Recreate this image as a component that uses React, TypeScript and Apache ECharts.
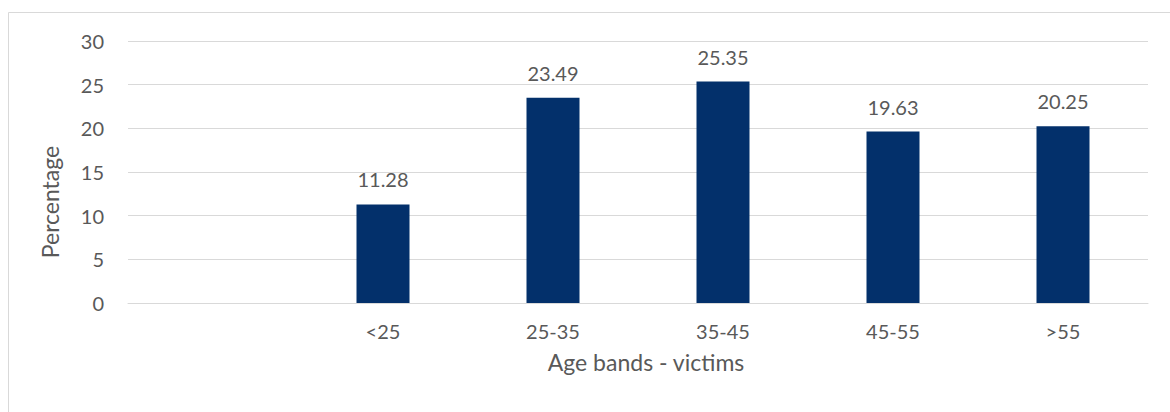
import React, { useEffect, useRef } from "react";
import * as echarts from "echarts";

// Share of victims per age band (first slot is an empty category)
const categories = ["", "<25", "25-35", "35-45", "45-55", ">55"];
const percentages: (number | null)[] = [null, 11.28, 23.49, 25.35, 19.63, 20.25];
const yTicks = { min: 0, max: 30, interval: 5 };

const TEXT = "#595959";
const FONT = "Lato, 'Open Sans', sans-serif";

export default function App() {
  const ref = useRef<HTMLDivElement>(null);

  useEffect(() => {
    if (!ref.current) return;
    const chart = echarts.init(ref.current, null, { renderer: "svg" });
    chart.setOption({
      animation: false,
      backgroundColor: "#ffffff",
      textStyle: { fontFamily: FONT, color: TEXT },
      grid: { left: 128, right: 22, top: 41, bottom: 109, containLabel: false },
      xAxis: {
        type: "category",
        data: categories,
        axisLine: { show: true, lineStyle: { color: "#d9d9d9", width: 1 } },
        axisTick: { show: false },
        axisLabel: { color: TEXT, fontSize: 20, fontFamily: FONT, margin: 18 },
      },
      yAxis: {
        type: "value",
        min: yTicks.min,
        max: yTicks.max,
        interval: yTicks.interval,
        axisLine: { show: false },
        axisTick: { show: false },
        axisLabel: { color: TEXT, fontSize: 20, fontFamily: FONT, margin: 24 },
        splitLine: { lineStyle: { color: "#d9d9d9", width: 1 } },
      },
      graphic: [
        {
          type: "rect",
          shape: { x: 8.5, y: 12.5, width: 1200, height: 500 },
          style: { fill: "none", stroke: "#d9d9d9", lineWidth: 1 },
          silent: true,
          z: -10,
        },
        {
          type: "text",
          x: 50,
          y: 202,
          rotation: Math.PI / 2,
          style: {
            text: "Percentage",
            fill: TEXT,
            fontSize: 23,
            fontFamily: FONT,
            align: "center",
            verticalAlign: "middle",
          },
        },
        {
          type: "text",
          x: 646,
          y: 362,
          style: {
            text: "Age bands - victims",
            fill: TEXT,
            fontSize: 23,
            fontFamily: FONT,
            align: "center",
            verticalAlign: "middle",
          },
        },
      ],
      series: [
        {
          type: "bar",
          data: percentages,
          barWidth: 53,
          itemStyle: { color: "#03306B" },
          label: {
            show: true,
            position: "top",
            distance: 15,
            color: TEXT,
            fontSize: 20,
            fontFamily: FONT,
            formatter: (p: any) => (p.value == null ? "" : Number(p.value).toFixed(2)),
          },
        },
      ],
    });
    return () => chart.dispose();
  }, []);

  return (
    <div
      ref={ref}
      style={{ position: "fixed", left: 0, top: 0, width: 1170, height: 412 }}
    />
  );
}
